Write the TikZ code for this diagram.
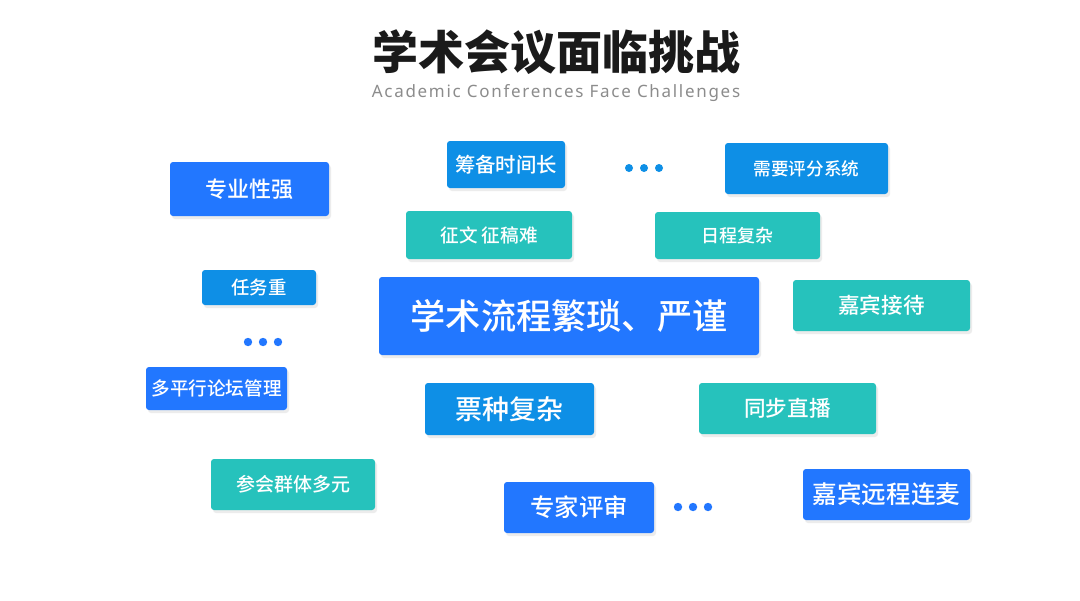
\documentclass[tikz,border=0pt]{standalone}
\usepackage{fontspec}
\usetikzlibrary{shadows}
\newfontfamily\cjk{Noto Sans CJK SC Medium}
\newfontfamily\cjkheavy{Noto Sans CJK SC Black}
\newfontfamily\subfont{Noto Sans}[LetterSpace=10]
\definecolor{tagblue}{RGB}{34,119,255}
\definecolor{tagsky}{RGB}{14,143,230}
\definecolor{tagteal}{RGB}{38,194,188}
\definecolor{subgray}{RGB}{140,140,140}
\definecolor{titleblack}{RGB}{26,26,26}

\begin{document}
\begin{tikzpicture}[x=0.5pt,y=-0.5pt,every node/.style={align=center},
    tag/.style={rounded corners=1.5pt,text=white,inner sep=0pt,
      drop shadow={opacity=0.15,shadow xshift=1pt,shadow yshift=-1.5pt}},
    bluetag/.style={tag,fill=tagblue},
    skytag/.style={tag,fill=tagsky},
    tealtag/.style={tag,fill=tagteal},
    boxsize/.style 2 args={minimum width=#1*0.5pt,minimum height=#2*0.5pt},
    textsize/.style={font=\cjk\fontsize{#1}{#1}\selectfont}]
    \fill[white] (0,0) rectangle (1080,600);
    \useasboundingbox (0,0) rectangle (1080,600);
    % title
    \node[text=titleblack,font=\cjkheavy\fontsize{23}{23}\selectfont] (title) at (556,52) {学术会议面临挑战};
    \node[text=subgray,font=\subfont\fontsize{8.5}{8.5}\selectfont] (subtitle) at (556,93) {Academic Conferences Face Challenges};
    % centre
    \node[bluetag,boxsize={380}{78},textsize=17.6] (main) at (569,316) {学术流程繁琐、严谨};
    % tags round it
    \node[bluetag,boxsize={159}{54},textsize=11] (major) at (249.5,189) {专业性强};
    \node[skytag,boxsize={118}{47},textsize=10.2] (prep) at (506,164.5) {筹备时间长};
    \node[skytag,boxsize={163}{51},textsize=8.8] (score) at (806.5,168.5) {需要评分系统};
    \node[tealtag,boxsize={166}{48},textsize=9.3] (paper) at (489,235) {征文 征稿难};
    \node[tealtag,boxsize={165}{47},textsize=9] (agenda) at (737.5,235.5) {日程复杂};
    \node[skytag,boxsize={114}{35},textsize=9.2] (task) at (259,287.5) {任务重};
    \node[tealtag,boxsize={177}{51},textsize=10.8] (guest) at (881.5,305.5) {嘉宾接待};
    \node[bluetag,boxsize={141}{43},textsize=9.3] (forum) at (216.5,388.5) {多平行论坛管理};
    \node[skytag,boxsize={169}{52},textsize=13.5] (ticket) at (509.5,409) {票种复杂};
    \node[tealtag,boxsize={177}{51},textsize=10.8] (live) at (787.5,408.5) {同步直播};
    \node[tealtag,boxsize={164}{51},textsize=9.5] (crowd) at (293,484.5) {参会群体多元};
    \node[bluetag,boxsize={150}{51},textsize=12.2] (review) at (579,507.5) {专家评审};
    \node[bluetag,boxsize={167}{51},textsize=12.3] (remote) at (886.5,494.5) {嘉宾远程连麦};
    % dots
    \foreach \dx in {0,15,30} {
      \fill[tagsky] (629+\dx,168) circle (2pt);
      \fill[tagblue] (248+\dx,342) circle (2.1pt);
      \fill[tagblue] (678+\dx,507) circle (2.1pt);
    }
  \end{tikzpicture}
\end{document}
